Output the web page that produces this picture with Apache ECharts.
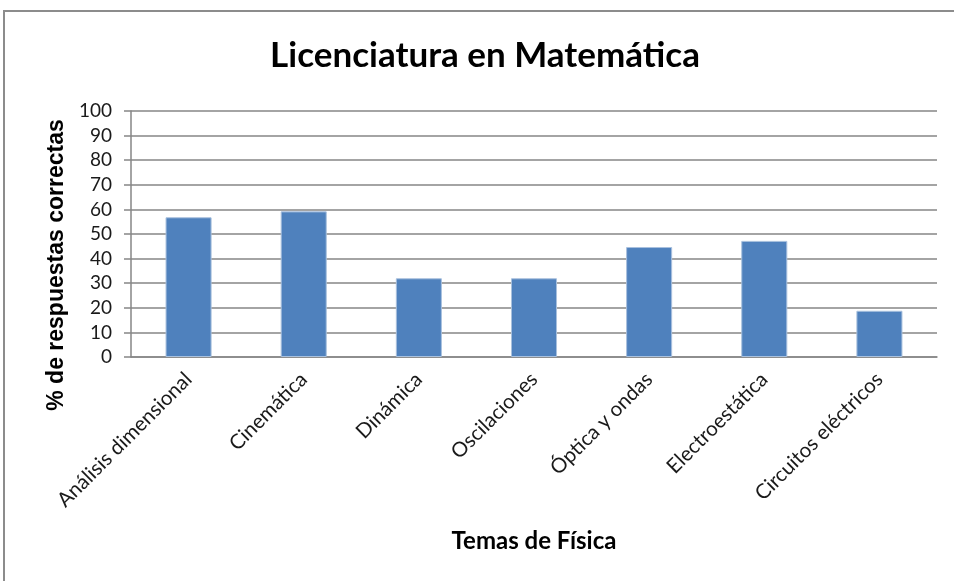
<!DOCTYPE html>
<html>
<head>
<meta charset="utf-8">
<script src="https://cdn.jsdelivr.net/npm/echarts@6/dist/echarts.min.js"></script>
<style>
  html, body { margin: 0; padding: 0; background: #fff; overflow: hidden; }
  #frame { position: absolute; left: 3px; top: 10px; width: 1100px; height: 800px; border: 2px solid #8c8c8c; }
  #chart { position: absolute; left: 0; top: 0; width: 954px; height: 581px; }
</style>
</head>
<body>
<div id="frame"></div>
<div id="chart"></div>
<script>
// datos del gráfico
const temas = ['Análisis dimensional', 'Cinemática', 'Dinámica', 'Oscilaciones', 'Óptica y ondas', 'Electroestática', 'Circuitos eléctricos'];
const porcentajes = [56.8, 59.2, 32.0, 32.0, 44.7, 47.2, 18.8];

const myChart = echarts.init(document.getElementById('chart'));

const gris = '#868686';

const option = {
  backgroundColor: 'transparent',
  animation: false,
  title: {
    text: 'Licenciatura en Matemática',
    left: 480,
    top: 33,
    textAlign: 'center',
    textStyle: {
      fontFamily: 'Lato',
      fontWeight: 'bold',
      fontSize: 35,
      color: '#000'
    }
  },
  grid: {
    left: 131,
    right: 17,
    top: 111,
    bottom: 224
  },
  xAxis: {
    type: 'category',
    data: temas,
    name: 'Temas de Física',
    nameLocation: 'middle',
    nameGap: 172,
    nameTextStyle: {
      fontFamily: 'Lato',
      fontWeight: 'bold',
      fontSize: 24,
      color: '#000'
    },
    axisLine: { lineStyle: { color: gris, width: 1.5 } },
    axisTick: { length: 7, lineStyle: { color: gris, width: 1.5 } },
    axisLabel: {
      rotate: 45,
      interval: 0,
      margin: 19,
      fontFamily: 'Lato',
      fontSize: 20.5,
      color: '#1a1a1a'
    }
  },
  yAxis: {
    type: 'value',
    min: 0,
    max: 100,
    interval: 10,
    name: '% de respuestas correctas',
    nameLocation: 'middle',
    nameGap: 62,
    nameTextStyle: {
      fontFamily: 'Liberation Sans',
      fontWeight: 'bold',
      fontSize: 23,
      color: '#000',
      padding: [0, 62, 0, 0]
    },
    axisLine: { show: true, lineStyle: { color: gris, width: 1.5 } },
    axisTick: { show: true, length: 7, lineStyle: { color: gris, width: 1.5 } },
    axisLabel: {
      margin: 19,
      fontFamily: 'Lato',
      fontSize: 19,
      color: '#1a1a1a'
    },
    splitLine: { lineStyle: { color: gris, width: 1.5 } }
  },
  series: [
    {
      type: 'bar',
      data: porcentajes,
      barWidth: '40%',
      itemStyle: {
        color: '#4f81bd',
        borderColor: '#a9c1de',
        borderWidth: 1
      }
    }
  ]
};

myChart.setOption(option);
</script>
</body>
</html>
